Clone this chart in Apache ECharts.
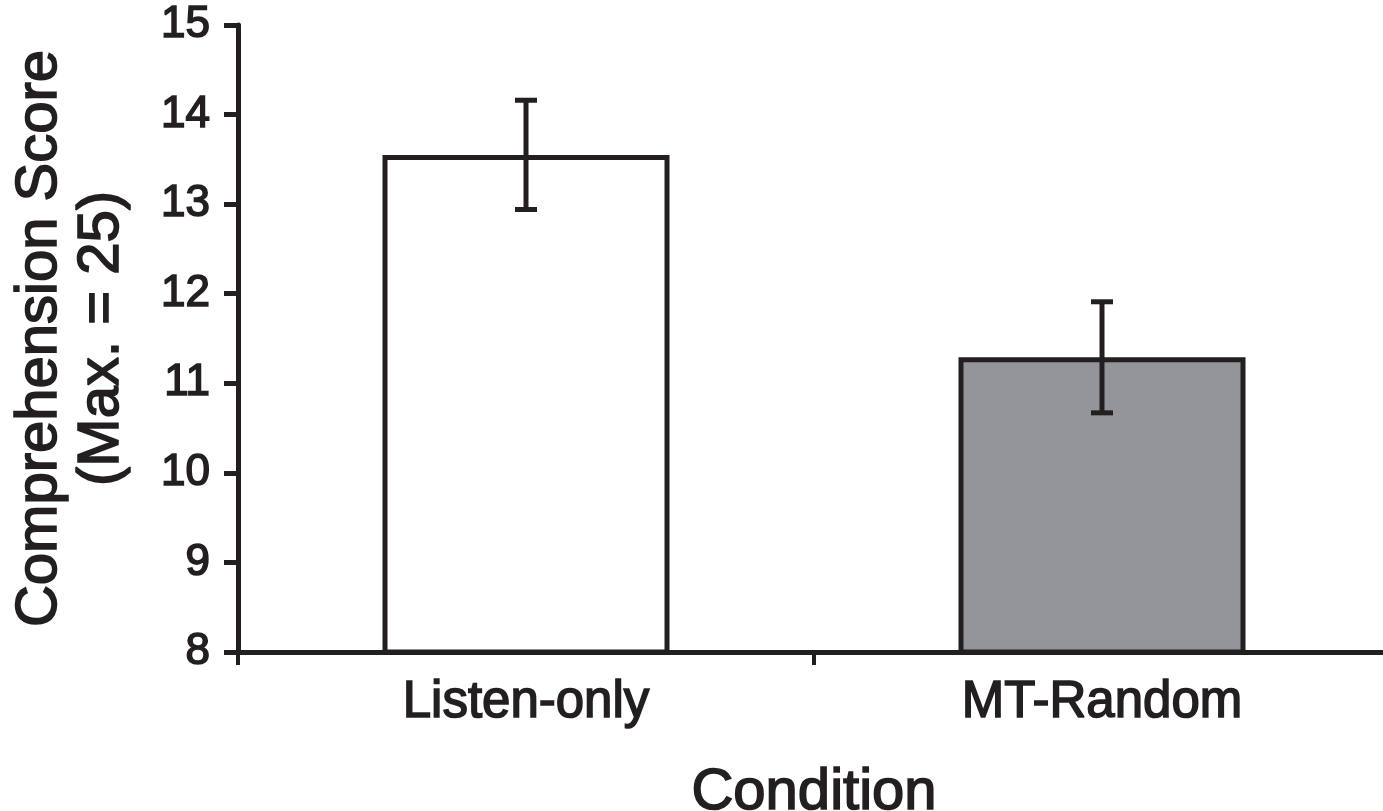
<!DOCTYPE html>
<html>
<head>
<meta charset="utf-8">
<script src="https://cdn.jsdelivr.net/npm/echarts@6/dist/echarts.min.js"></script>
<style>html,body{margin:0;padding:0;background:#fff;}#c{width:1383px;height:811px;}</style>
</head>
<body>
<div id="c"></div>
<script>
const categories = ['Listen-only', 'MT-Random'];
const means = [13.55, 11.29];
const errors = [0.61, 0.62];
const barColors = ['#ffffff', '#939598'];
const yTicks = [8, 9, 10, 11, 12, 13, 14, 15];

const ink = '#231f20';
const font = '"Liberation Sans", Arial, sans-serif';
const chart = echarts.init(document.getElementById('c'), null, {renderer: 'canvas'});

const errData = means.map((m, i) => [i, m - errors[i], m + errors[i]]);
const heavy = {textBorderColor: ink, textBorderWidth: 1.6};

chart.setOption({
  animation: false,
  backgroundColor: '#ffffff',
  grid: {left: 238, top: 25, right: -7, bottom: 159, containLabel: false, outerBoundsMode: 'none'},
  xAxis: {
    type: 'category',
    data: categories,
    name: 'Condition',
    nameLocation: 'middle',
    nameGap: 112,
    nameTextStyle: Object.assign({fontFamily: font, fontSize: 58, color: ink}, heavy),
    axisLine: {show: true, lineStyle: {color: ink, width: 5}},
    axisTick: {show: true, length: 13, lineStyle: {color: ink, width: 4}, alignWithLabel: false},
    axisLabel: Object.assign({fontFamily: font, fontSize: 51, color: ink, margin: 25}, heavy),
    splitLine: {show: false}
  },
  yAxis: {
    type: 'value',
    min: yTicks[0],
    max: yTicks[yTicks.length - 1],
    interval: 1,
    name: 'Comprehension Score\n(Max. = 25)',
    nameLocation: 'middle',
    nameGap: 105,
    nameRotate: 90,
    nameTextStyle: Object.assign({fontFamily: font, fontSize: 58, color: ink, lineHeight: 62, align: 'center'}, heavy),
    axisLine: {show: true, lineStyle: {color: ink, width: 5}},
    axisTick: {show: true, inside: false, length: 14, lineStyle: {color: ink, width: 5}},
    axisLabel: Object.assign({fontFamily: font, fontSize: 44, color: ink, margin: 28}, heavy),
    splitLine: {show: false}
  },
  series: [
    {
      type: 'bar',
      barWidth: 287,
      data: means.map((v, i) => ({value: v, itemStyle: {color: barColors[i]}})),
      itemStyle: {borderColor: ink, borderWidth: 5},
      z: 2
    },
    {
      type: 'custom',
      z: 3,
      data: errData,
      renderItem: function (params, api) {
        const x = api.value(0);
        const lo = api.coord([x, api.value(1)]);
        const hi = api.coord([x, api.value(2)]);
        const hw = 11;
        const style = {stroke: ink, lineWidth: 5, fill: null};
        return {
          type: 'group',
          children: [
            {type: 'line', shape: {x1: lo[0], y1: lo[1], x2: hi[0], y2: hi[1]}, style: style},
            {type: 'line', shape: {x1: hi[0] - hw, y1: hi[1], x2: hi[0] + hw, y2: hi[1]}, style: style},
            {type: 'line', shape: {x1: lo[0] - hw, y1: lo[1], x2: lo[0] + hw, y2: lo[1]}, style: style}
          ]
        };
      }
    }
  ]
});
</script>
</body>
</html>
